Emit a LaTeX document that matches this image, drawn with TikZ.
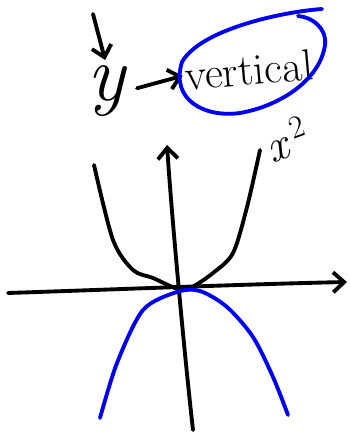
\documentclass[tikz,border=0pt]{standalone}
\usepackage{tikz}
\usetikzlibrary{arrows.meta,calc,positioning}
\definecolor{Ink}{HTML}{000000}
\definecolor{Pen}{HTML}{0000F0}
\tikzset{ink/.style={draw=Ink,line width=2.2pt,line cap=round,line join=round},pen/.style={draw=Pen,line width=2.2pt,line cap=round,line join=round},flow/.style={ink,-{Straight Barb[length=2.2mm,width=4mm]}},word/.style={inner sep=1pt,text=Ink}}

\begin{document}
\begin{tikzpicture}[x=0.02cm,y=-0.02cm]
      \useasboundingbox (0,0) rectangle (350,432);
      \node[word,font=\fontsize{45}{50}\selectfont\itshape](y) at (106,91){y};
      \node[word,font=\fontsize{25}{30}\selectfont,rotate=5](vert) at (249,70){vertical};
      \node[word,font=\fontsize{26}{30}\selectfont,rotate=20](sq) at (287,139){\textit{x}\kern3pt\textsuperscript{2}};
      \coordinate (src) at (93,14);
      \coordinate (vtop) at (167,145);\coordinate (vbot) at (193,430);
      \coordinate (hleft) at (8,293);\coordinate (hright) at (347,282);
      \draw[flow,shorten >=2pt](src)--(y.north);\draw[flow,shorten <=6pt](y.east)--(vert.west);
      % loop round the word
      \draw[pen](322,9) .. controls (280,12) and (200,30) .. (182,62) .. controls (170,100) and (205,118) .. (240,113) .. controls (280,106) and (320,80) .. (325,45) .. controls (327,28) and (312,17) .. (298,16);
      % axes
      \draw[flow](vbot) .. controls (185,360) and (172,220) .. (vtop);
      \draw[flow](hleft) .. controls (100,290) and (250,284) .. (hright);
      % curves
      \draw[ink] plot[smooth] coordinates {(94,165) (113,240) (133,270) (153,278) (178,289) (192,287) (213,273) (233,253) (247,207) (260,150)};
      \draw[pen] plot[smooth] coordinates {(100,418) (117,363) (143,310) (177,292) (200,291) (227,307) (253,337) (273,377) (288,415)};
    \end{tikzpicture}
\end{document}
